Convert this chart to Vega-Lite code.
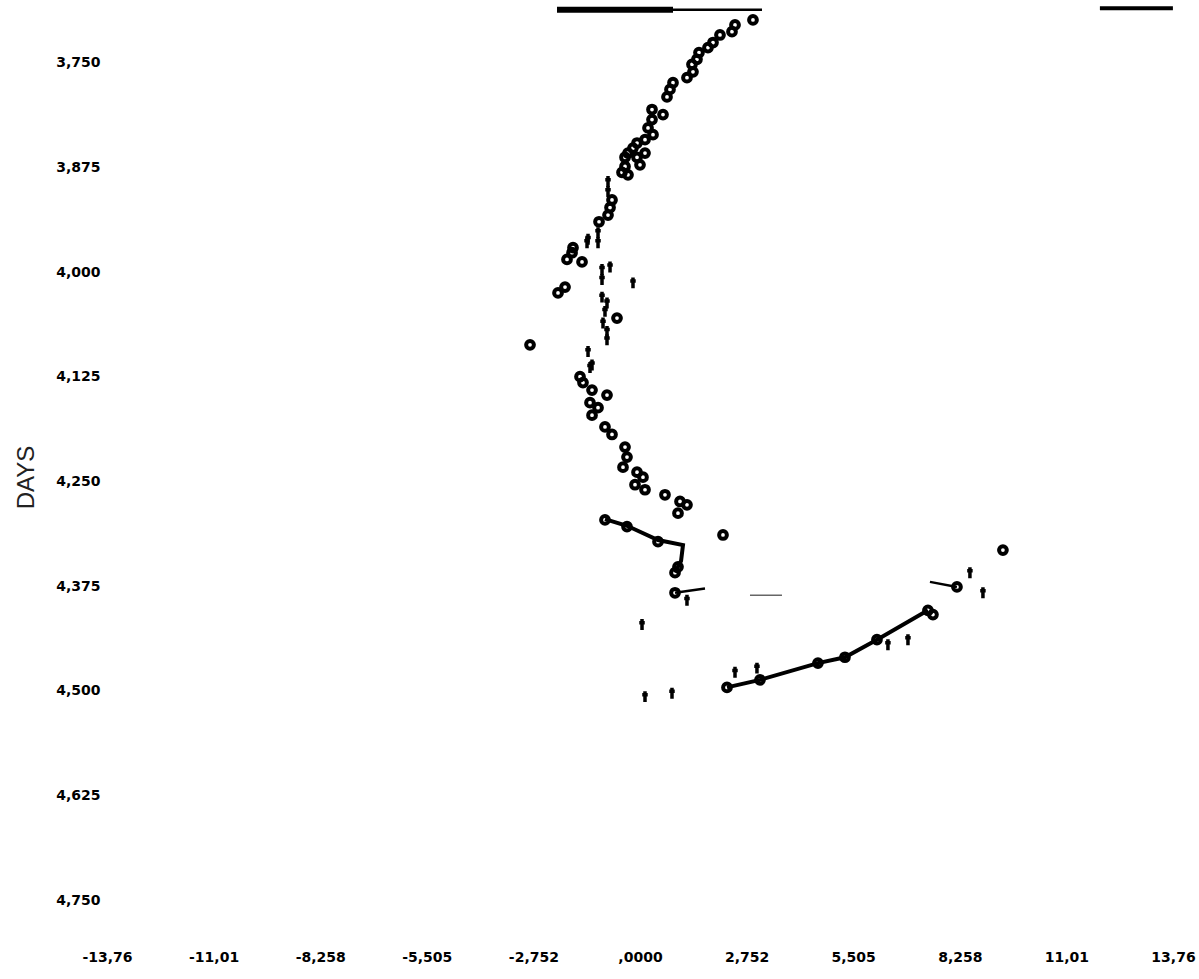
{
  "$schema": "https://vega.github.io/schema/vega-lite/v6.json",
  "width": 1066,
  "height": 938,
  "autosize": {"type": "none"},
  "padding": {"left": 107, "top": 4, "right": 26, "bottom": 37},
  "background": "white",
  "config": {"view": {"stroke": null}},
  "datasets": {
    "pts": [
      {"x": 2.917, "day": 3699, "kind": "circle"},
      {"x": 2.453, "day": 3705, "kind": "circle"},
      {"x": 2.375, "day": 3713, "kind": "circle"},
      {"x": 2.065, "day": 3717, "kind": "circle"},
      {"x": 1.885, "day": 3726, "kind": "circle"},
      {"x": 1.755, "day": 3732, "kind": "circle"},
      {"x": 1.523, "day": 3738, "kind": "circle"},
      {"x": 1.471, "day": 3746, "kind": "circle"},
      {"x": 1.342, "day": 3752, "kind": "circle"},
      {"x": 1.368, "day": 3761, "kind": "circle"},
      {"x": 1.213, "day": 3768, "kind": "circle"},
      {"x": 0.852, "day": 3774, "kind": "circle"},
      {"x": 0.774, "day": 3782, "kind": "circle"},
      {"x": 0.697, "day": 3791, "kind": "circle"},
      {"x": 0.594, "day": 3812, "kind": "circle"},
      {"x": 0.310, "day": 3806, "kind": "circle"},
      {"x": 0.310, "day": 3818, "kind": "circle"},
      {"x": 0.207, "day": 3828, "kind": "circle"},
      {"x": 0.336, "day": 3836, "kind": "circle"},
      {"x": 0.129, "day": 3842, "kind": "circle"},
      {"x": -0.077, "day": 3846, "kind": "circle"},
      {"x": -0.181, "day": 3852, "kind": "circle"},
      {"x": 0.129, "day": 3858, "kind": "circle"},
      {"x": -0.310, "day": 3858, "kind": "circle"},
      {"x": -0.387, "day": 3863, "kind": "circle"},
      {"x": -0.077, "day": 3863, "kind": "circle"},
      {"x": 0.0, "day": 3872, "kind": "circle"},
      {"x": -0.387, "day": 3874, "kind": "circle"},
      {"x": -0.465, "day": 3881, "kind": "circle"},
      {"x": -0.310, "day": 3884, "kind": "circle"},
      {"x": -0.826, "day": 3892, "kind": "tick"},
      {"x": -0.826, "day": 3904, "kind": "tick"},
      {"x": -0.723, "day": 3914, "kind": "circle"},
      {"x": -0.774, "day": 3923, "kind": "circle"},
      {"x": -0.826, "day": 3932, "kind": "circle"},
      {"x": -1.058, "day": 3940, "kind": "circle"},
      {"x": -1.084, "day": 3953, "kind": "tick"},
      {"x": -1.342, "day": 3961, "kind": "tick"},
      {"x": -1.368, "day": 3965, "kind": "tick"},
      {"x": -1.084, "day": 3965, "kind": "tick"},
      {"x": -1.730, "day": 3971, "kind": "circle"},
      {"x": -1.755, "day": 3977, "kind": "circle"},
      {"x": -1.885, "day": 3985, "kind": "circle"},
      {"x": -1.497, "day": 3988, "kind": "circle"},
      {"x": -0.981, "day": 3997, "kind": "tick"},
      {"x": -0.774, "day": 3994, "kind": "tick"},
      {"x": -0.981, "day": 4009, "kind": "tick"},
      {"x": -1.936, "day": 4018, "kind": "circle"},
      {"x": -2.117, "day": 4025, "kind": "circle"},
      {"x": -0.181, "day": 4013, "kind": "tick"},
      {"x": -0.981, "day": 4030, "kind": "tick"},
      {"x": -0.852, "day": 4037, "kind": "tick"},
      {"x": -0.904, "day": 4047, "kind": "tick"},
      {"x": -0.594, "day": 4055, "kind": "circle"},
      {"x": -0.955, "day": 4061, "kind": "tick"},
      {"x": -0.852, "day": 4071, "kind": "tick"},
      {"x": -0.852, "day": 4081, "kind": "tick"},
      {"x": -2.840, "day": 4087, "kind": "circle"},
      {"x": -1.342, "day": 4095, "kind": "tick"},
      {"x": -1.239, "day": 4111, "kind": "tick"},
      {"x": -1.291, "day": 4114, "kind": "tick"},
      {"x": -1.549, "day": 4125, "kind": "circle"},
      {"x": -1.472, "day": 4132, "kind": "circle"},
      {"x": -1.239, "day": 4141, "kind": "circle"},
      {"x": -0.852, "day": 4147, "kind": "circle"},
      {"x": -1.291, "day": 4156, "kind": "circle"},
      {"x": -1.084, "day": 4162, "kind": "circle"},
      {"x": -1.239, "day": 4171, "kind": "circle"},
      {"x": -0.904, "day": 4185, "kind": "circle"},
      {"x": -0.723, "day": 4194, "kind": "circle"},
      {"x": -0.387, "day": 4209, "kind": "circle"},
      {"x": -0.336, "day": 4221, "kind": "circle"},
      {"x": -0.439, "day": 4233, "kind": "circle"},
      {"x": -0.077, "day": 4239, "kind": "circle"},
      {"x": 0.077, "day": 4245, "kind": "circle"},
      {"x": -0.129, "day": 4254, "kind": "circle"},
      {"x": 0.129, "day": 4260, "kind": "circle"},
      {"x": 0.645, "day": 4266, "kind": "circle"},
      {"x": 1.033, "day": 4274, "kind": "circle"},
      {"x": 1.213, "day": 4278, "kind": "circle"},
      {"x": 0.981, "day": 4288, "kind": "circle"},
      {"x": -0.904, "day": 4296, "kind": "circle"},
      {"x": -0.336, "day": 4304, "kind": "circle"},
      {"x": 0.465, "day": 4322, "kind": "circle"},
      {"x": 0.981, "day": 4352, "kind": "circle"},
      {"x": 0.904, "day": 4359, "kind": "circle"},
      {"x": 2.143, "day": 4314, "kind": "circle"},
      {"x": 0.904, "day": 4383, "kind": "circle"},
      {"x": 1.213, "day": 4392, "kind": "tick"},
      {"x": 0.052, "day": 4421, "kind": "tick"},
      {"x": 0.129, "day": 4507, "kind": "tick"},
      {"x": 0.826, "day": 4503, "kind": "tick"},
      {"x": 2.246, "day": 4496, "kind": "circle"},
      {"x": 3.098, "day": 4487, "kind": "circle"},
      {"x": 2.453, "day": 4478, "kind": "tick"},
      {"x": 3.020, "day": 4473, "kind": "tick"},
      {"x": 4.595, "day": 4467, "kind": "circle"},
      {"x": 5.292, "day": 4460, "kind": "circle"},
      {"x": 6.118, "day": 4439, "kind": "circle"},
      {"x": 6.402, "day": 4445, "kind": "tick"},
      {"x": 6.919, "day": 4439, "kind": "tick"},
      {"x": 7.435, "day": 4404, "kind": "circle"},
      {"x": 7.564, "day": 4409, "kind": "circle"},
      {"x": 8.184, "day": 4376, "kind": "circle"},
      {"x": 8.519, "day": 4359, "kind": "tick"},
      {"x": 8.855, "day": 4383, "kind": "tick"},
      {"x": 9.371, "day": 4332, "kind": "circle"}
    ],
    "lines": [
      {"series": "A", "ord": 1, "x": -0.904, "day": 4295},
      {"series": "A", "ord": 2, "x": -0.336, "day": 4303},
      {"series": "A", "ord": 3, "x": 0.465, "day": 4320},
      {"series": "A", "ord": 4, "x": 1.110, "day": 4326},
      {"series": "A", "ord": 5, "x": 1.06, "day": 4345},
      {"series": "A", "ord": 6, "x": 0.904, "day": 4359},
      {"series": "E", "ord": 1, "x": 2.246, "day": 4496},
      {"series": "E", "ord": 2, "x": 3.098, "day": 4487},
      {"series": "E", "ord": 3, "x": 4.595, "day": 4467},
      {"series": "E", "ord": 4, "x": 5.292, "day": 4460},
      {"series": "E", "ord": 5, "x": 6.118, "day": 4439},
      {"series": "E", "ord": 6, "x": 7.435, "day": 4404},
      {"series": "G", "ord": 1, "x": 11.875, "day": 3685},
      {"series": "G", "ord": 2, "x": 13.76, "day": 3685},
      {"series": "F1", "ord": 1, "x": -2.143, "day": 3687},
      {"series": "F1", "ord": 2, "x": 0.852, "day": 3687},
      {"series": "F2", "ord": 1, "x": 0.852, "day": 3687},
      {"series": "F2", "ord": 2, "x": 3.150, "day": 3687},
      {"series": "B", "ord": 1, "x": 0.904, "day": 4383},
      {"series": "B", "ord": 2, "x": 1.678, "day": 4378},
      {"series": "D", "ord": 1, "x": 7.487, "day": 4370},
      {"series": "D", "ord": 2, "x": 8.184, "day": 4376},
      {"series": "C", "ord": 1, "x": 2.840, "day": 4386},
      {"series": "C", "ord": 2, "x": 3.666, "day": 4386}
    ]
  },
  "encoding": {
    "x": {
      "field": "x", "type": "quantitative",
      "scale": {"domain": [-13.7625, 13.7625], "nice": false, "zero": false},
      "axis": {
        "title": null, "domain": false, "ticks": false, "grid": false,
        "values": [-13.7625, -11.01, -8.2575, -5.505, -2.7525, 0, 2.7525, 5.505, 8.2575, 11.01, 13.7625],
        "labelExpr": "['-13,76','-11,01','-8,258','-5,505','-2,752',',0000','2,752','5,505','8,258','11,01','13,76'][round(datum.value/2.7525)+5]",
        "labelFont": "DejaVu Sans", "labelFontWeight": "bold", "labelFontSize": 14,
        "labelColor": "black", "labelPadding": 8, "labelFlush": false, "labelOverlap": false
      }
    },
    "y": {
      "field": "day", "type": "quantitative",
      "scale": {"domain": [3680, 4800], "nice": false, "zero": false, "reverse": true},
      "axis": {
        "title": "DAYS", "domain": false, "ticks": false, "grid": false,
        "values": [3750, 3875, 4000, 4125, 4250, 4375, 4500, 4625, 4750],
        "format": ",d",
        "labelFont": "DejaVu Sans", "labelFontWeight": "bold", "labelFontSize": 14,
        "labelColor": "black", "labelPadding": 7, "labelOverlap": false,
        "titleFont": "Liberation Sans", "titleFontWeight": "normal", "titleFontSize": 24,
        "titleColor": "#222", "titleX": -81, "titleY": 473, "titleAngle": 270,
        "titleAlign": "center", "titleBaseline": "middle"
      }
    }
  },
  "layer": [
    {
      "data": {"name": "lines"},
      "transform": [{"filter": "indexof(['A','E','G'], datum.series) >= 0"}],
      "mark": {"type": "line", "color": "black", "strokeWidth": 4},
      "encoding": {"detail": {"field": "series"}, "order": {"field": "ord"}}
    },
    {
      "data": {"name": "lines"},
      "transform": [{"filter": "datum.series == 'F1'"}],
      "mark": {"type": "line", "color": "black", "strokeWidth": 6},
      "encoding": {"detail": {"field": "series"}, "order": {"field": "ord"}}
    },
    {
      "data": {"name": "lines"},
      "transform": [{"filter": "indexof(['B','D','F2'], datum.series) >= 0"}],
      "mark": {"type": "line", "color": "black", "strokeWidth": 2.5},
      "encoding": {"detail": {"field": "series"}, "order": {"field": "ord"}}
    },
    {
      "data": {"name": "lines"},
      "transform": [{"filter": "datum.series == 'C'"}],
      "mark": {"type": "line", "color": "#666", "strokeWidth": 1.5},
      "encoding": {"detail": {"field": "series"}, "order": {"field": "ord"}}
    },
    {
      "data": {"name": "pts"},
      "transform": [{"filter": "datum.kind == 'circle'"}],
      "mark": {"type": "point", "shape": "circle", "filled": false, "stroke": "black", "strokeWidth": 4, "size": 60, "opacity": 1}
    },
    {
      "data": {"name": "pts"},
      "transform": [{"filter": "datum.kind == 'tick'"}],
      "mark": {"type": "point", "shape": "M0,-1L0,1M-0.5,-0.35L0.5,-0.35", "filled": false, "stroke": "black", "strokeWidth": 3.5, "size": 120, "opacity": 1}
    }
  ]
}
